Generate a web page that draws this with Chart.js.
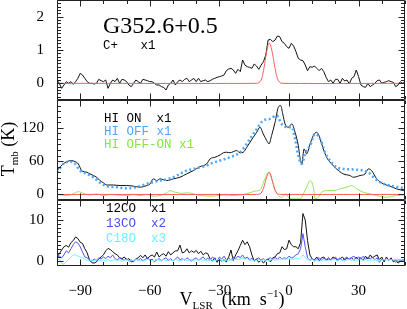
<!DOCTYPE html>
<html><head><meta charset="utf-8">
<style>html,body{margin:0;padding:0;background:#fff;overflow:hidden}#wrap{width:407px;height:309px;position:relative}</style>
<script src="https://cdn.jsdelivr.net/npm/chart.js@4.4.1/dist/chart.umd.min.js"></script>
</head><body><div id="wrap"><canvas id="c" width="407" height="309"></canvas></div>
<script>
// ---------- DATA ----------
// channel velocities (km/s) for the uniformly sampled spectra: -100 ... 50 step 1
const channelVel = Array.from({length: 151}, (_, i) => -100 + i);

const cplusT = [
 0.1,0.0,-0.15,-0.05,0.05,0.0,0.05,-0.03,0.05,0.15,
 0.3,0.25,0.15,0.05,0.0,0.0,-0.02,0.0,0.12,0.08,
 0.05,0.1,-0.15,0.0,0.1,0.05,0.15,0.0,0.12,0.1,
 0.05,-0.05,-0.1,0.0,0.1,0.05,0.0,0.12,0.1,0.08,
 0.05,0.05,0.0,-0.05,-0.05,-0.1,-0.12,-0.2,-0.05,0.0,
 0.1,-0.05,0.05,0.1,0.05,0.12,0.15,0.05,0.1,0.15,
 0.05,0.15,0.05,0.08,0.1,0.05,0.08,
 0.12,0.15,0.18,0.2,0.22,0.25,0.38,0.43,0.45,0.4,
 0.3,0.42,0.35,0.7,0.55,0.5,0.48,0.45,0.58,0.52,
 0.42,0.55,0.65,0.85,1.3,1.32,1.25,1.3,1.42,1.4,
 1.25,1.2,1.1,1.05,1.2,1.12,0.95,0.75,0.7,0.68,
 0.55,0.38,0.5,0.48,0.52,0.45,0.38,0.45,0.35,0.18,
 0.05,0.1,0.0,0.12,0.12,0.0,0.15,0.07,0.1,-0.02,
 0.15,0.2,0.4,0.2,-0.05,-0.1,-0.12,0.0,-0.1,-0.05,
 0.0,0.08,0.1,0.0,0.03,0.05,0.08,0.05,0.03,-0.1,
 -0.05,0.05,0.0,0.05
];

const fitVel   = [-100,-14,-13,-12,-11,-10,-9,-8.5,-8,-7,-6,-5,-4,-3,50];
const cplusFit = [0,0,0.02,0.1,0.38,0.8,1.15,1.2,1.15,0.85,0.45,0.15,0.03,0,0];
const hiFit    = [0,0,0.3,2.5,11,26,38,40,37,22,8,1.5,0.2,0,0];

const hiOnVel = [-100,-99.4,-97.3,-95.8,-93.7,-92.2,-90.8,-90.1,-89.4,-87.2,-85.8,-84.3,-82.9,-81.5,-80.0,-78.6,-75.7,-72.8,-70.0,-67.1,
 -64.2,-61.4,-59.9,-58.5,-57.0,-55.6,-52.7,-49.9,-47.0,-44.1,-41.2,-38.4,-35.5,-34.0,-31.9,-29.7,-28.3,-26.9,-25.4,-24.0,
 -22.6,-21.1,-19.7,-18.2,-16.8,-15.4,-13.9,-12.5,-11.1,-9.6,-8.6,-7.5,-6.0,-4.6,-3.6,-2.7,-1.7,-0.3,1.2,2.6,
 4.0,4.7,5.5,6.5,7.6,9.1,10.5,11.9,12.6,13.4,14.8,16.2,17.7,20.5,23.4,26.3,27.7,30.6,32.8,34.2,
 35.6,37.8,40.7,43.5,46.4,49.3,50];
const hiOnT = [42,46,55,59,61,59,55,49,43,40,37,34,31,25,21,17,17,16,16,15,
 13,16,19,28,25,28,25,28,31,37,43,50,55,64,67,71,75,76,75,77,
 79,75,76,85,94,103,112,121,109,97,91,106,130,157,160,145,127,121,127,112,
 88,67,55,82,73,91,106,112,109,100,82,67,58,46,37,34,31,34,37,46,
 43,28,19,15,10,7,6];

const hiOffVel = [-100,-99.4,-97.3,-94.4,-92.2,-90.1,-87.2,-84.3,-81.5,-78.6,-74.3,-70.0,-65.7,-61.4,-58.5,-55.6,-52.7,-49.9,-47.0,-44.1,
 -41.2,-38.4,-35.5,-34.0,-29.7,-25.4,-21.1,-16.8,-13.9,-11.1,-8.2,-5.3,-3.2,-1.0,1.2,2.6,4.0,5.5,6.9,9.1,
 11.2,13.4,15.5,17.7,20.5,23.4,27.7,32.0,34.2,36.4,39.2,43.5,47.8,50.0];
const hiOffT = [40,43,55,59,55,43,37,31,21,15,13,11,13,19,22,25,27,31,37,43,
 46,49,52,55,61,67,76,100,118,133,136,142,127,121,121,100,70,55,73,88,
 109,100,76,61,49,46,45,43,40,31,22,16,13,11];

const hiDiffVel = [-100,-95.8,-93,-90.8,-88.6,-85.8,-82.9,-80,-77.2,-74.3,-70,-67.1,-64.2,-61.4,-58.5,-55.6,-52.7,-51.3,-49.1,-46.3,
 -43.4,-41.2,-38.4,-32.6,-28.3,-24,-19.7,-16.8,-14.7,-12.5,-10.4,-8.9,-7.5,-6,-4.6,-3.2,-1.3,-0.3,1.9,4.7,
 6.2,7.6,9.1,10.5,11.2,12.6,14.1,16.2,19.1,22,24.9,27,29.2,32,34.9,37.8,42.1,46.4,50];
const hiDiffT = [0,-2,1,5,2,-1,1,-2,0,-1,-2,0,-2,0,-3,-2,3,7,4,2,
 3,1,-2,-3,-1,-2,0,3,6,8,28,40,28,7,-2,-5,1,-5,-8,-8,
 1,13,25,13,-8,-5,4,7,7,10,13,16,10,4,1,-2,-5,-2,-1];

const co12T = [
 1.0,1.8,2.7,3.5,3.8,3.4,4.5,5.0,5.9,5.5,
 4.6,4.3,3.0,2.0,0.3,-0.4,-0.5,-0.2,0.5,1.0,
 1.5,2.5,3.1,2.8,2.3,1.8,1.5,0.8,0.6,1.0,
 0.3,0.6,-0.2,0.0,0.5,0.8,1.4,0.8,1.5,0.6,
 1.2,1.5,1.0,2.2,1.0,1.5,1.8,1.2,2.3,1.5,
 2.0,2.5,2.5,3.9,2.0,2.2,3.0,2.0,2.5,2.1,
 2.6,1.8,2.4,1.5,2.0,1.8,0.5,0.0,0.8,-0.3,
 0.5,0.0,0.3,-0.2,1.0,2.7,0.0,1.5,2.5,3.8,
 5.1,4.0,4.7,3.5,1.5,0.0,0.5,-0.3,0.3,-0.5,
 0.2,0.5,-0.2,0.8,1.0,1.8,2.0,3.5,2.8,3.0,
 5.1,4.0,3.5,3.5,3.0,4.5,11.6,10.0,5.0,1.5,
 0.5,0.3,1.0,0.0,0.8,1.0,0.2,0.5,0.3,1.0,
 0.6,0.2,0.5,1.0,0.3,0.8,0.5,0.8,0.2,1.0,
 0.4,0.8,0.2,1.2,0.5,1.5,0.8,1.2,1.5,0.3,
 1.0,-0.2,1.0,0.2,0.8,-0.2,0.3,-0.5,0.0,0.3,
 0.2
];
const co13T = [
 1.0,1.2,0.8,1.5,2.5,2.0,3.0,4.0,4.7,4.4,
 3.5,2.2,1.0,0.8,0.3,0.0,0.5,0.2,0.8,0.5,
 1.0,0.6,1.2,0.8,1.5,0.6,0.3,0.8,0.4,0.2,
 0.6,0.0,0.3,-0.2,0.5,0.2,0.7,0.0,0.4,0.8,
 0.2,0.5,-0.2,0.3,0.6,0.1,0.5,0.8,0.2,0.6,
 0.0,0.5,1.0,0.3,0.6,0.2,0.8,0.4,0.0,0.5,
 0.8,0.2,0.6,1.0,0.3,0.7,0.2,1.0,0.5,0.0,
 1.0,0.5,1.2,0.3,0.8,0.2,1.0,0.5,1.2,0.8,
 1.5,0.6,1.0,0.3,0.7,0.0,0.5,0.8,0.2,0.6,
 0.0,0.5,0.8,0.3,0.9,0.4,1.0,0.5,0.8,0.6,
 1.2,0.8,1.0,1.5,1.8,3.0,6.7,3.5,0.8,0.2,
 0.6,0.0,0.5,0.8,0.2,0.7,0.3,0.9,0.2,0.6,
 1.0,0.3,0.8,0.1,0.6,1.0,0.4,0.9,1.2,0.5,
 1.0,0.6,1.2,0.4,0.9,0.5,1.0,0.3,0.8,-0.3,
 0.5,0.2,0.7,0.3,0.5,0.2,-0.3,0.4,0.1,0.3,
 0.4
];
const c18oT = [
 0.2,0.5,-0.5,-0.8,0.0,0.3,1.0,1.5,1.5,1.2,
 1.0,0.8,0.4,0.2,0.0,0.3,0.1,0.4,0.2,0.0,
 0.3,0.1,0.4,0.0,0.2,0.5,0.1,0.3,-0.1,0.2,
 0.4,0.0,0.3,0.1,0.5,0.2,0.0,0.3,0.1,0.4,
 0.2,0.0,0.3,0.5,0.1,0.2,0.4,0.0,0.3,0.2,
 0.1,0.4,0.2,0.0,0.3,0.5,0.1,0.2,0.4,0.0,
 0.3,0.2,0.5,0.1,0.3,0.0,0.4,0.2,0.1,0.3,
 0.5,0.2,0.0,0.3,0.1,0.4,0.2,0.6,0.3,0.5,
 0.8,0.4,0.6,0.2,0.3,0.0,0.2,0.4,0.1,0.3,
 0.2,0.0,0.3,0.5,0.2,0.4,0.3,0.6,0.4,0.5,
 0.6,0.4,0.5,0.7,0.6,0.9,1.5,0.8,0.3,0.2,
 0.4,0.1,0.3,0.0,0.2,0.4,0.1,0.3,0.2,0.5,
 0.3,0.1,0.4,0.2,0.0,0.3,0.5,0.2,0.4,0.1,
 0.3,0.5,0.2,0.4,0.1,0.3,0.2,0.4,0.0,0.3,
 0.2,0.4,0.3,0.3,0.3,0.3,0.3,0.3,0.3,0.3,
 0.3
];

// tick labels
const xTickValues  = [-90, -60, -30, 0, 30];
const cplusTicks   = [0, 1, 2];
const hiTicks      = [0, 60, 120];
const coTicks      = [0, 10];

// ---------- CHART ----------
const pts = (xs, ys) => xs.map((x, i) => ({x, y: ys[i]}));
const SERIF = '"Liberation Serif", "DejaVu Serif", serif';
const MONO = '"Liberation Mono", "DejaVu Sans Mono", monospace';
const fmt = v => (v < 0 ? '\u2212' + Math.abs(v) : String(v));

const line = (data, color, axis, extra) => Object.assign({
  data, borderColor: color, borderWidth: 1, pointRadius: 0, showLine: true,
  yAxisID: axis, tension: 0
}, extra || {});

const datasets = [
  // panel 1 (top): C+
  line(pts(fitVel, cplusFit), '#ff5a5a', 'y1', {tension: 0.4}),
  line(pts(channelVel, cplusT), '#111111', 'y1'),
  // panel 2: HI
  line(pts(fitVel, hiFit), '#ff5a5a', 'y2', {tension: 0.4}),
  line(pts(hiDiffVel, hiDiffT), '#8de85a', 'y2', {cubicInterpolationMode: 'monotone'}),
  line(pts(hiOffVel, hiOffT), '#4da6ff', 'y2', {borderWidth: 2.5, borderDash: [2, 2.5], cubicInterpolationMode: 'monotone'}),
  line(pts(hiOnVel, hiOnT), '#111111', 'y2', {cubicInterpolationMode: 'monotone'}),
  // panel 3: CO
  line(pts(channelVel, c18oT), '#6ff5ff', 'y3'),
  line(pts(channelVel, co13T), '#5050ff', 'y3'),
  line(pts(channelVel, co12T), '#111111', 'y3'),
];

const yAxis = (min, max, weight, ticks) => ({
  type: 'linear', position: 'left', stack: 'panels', stackWeight: weight,
  min, max, grid: {display: false}, border: {display: false},
  afterBuildTicks: s => { s.ticks = ticks.map(v => ({value: v})); },
  afterFit: s => { s.width = 57; s.paddingTop = 0; s.paddingBottom = 0; },
  ticks: {color: '#000', font: {family: SERIF, size: 15}, padding: 5, callback: v => fmt(v)}
});

const panelDefs = [
  {id: 'y1', major: cplusTicks, minorStep: 0.1},
  {id: 'y2', major: hiTicks, minorStep: 10},
  {id: 'y3', major: coTicks, minorStep: 1},
];

const decor = {
  id: 'decor',
  afterDraw(chart) {
    const ctx = chart.ctx, ca = chart.chartArea, xs = chart.scales.x;
    const L = Math.round(ca.left) + 0.5, R = Math.round(ca.right) - 0.5;
    ctx.save();
    ctx.strokeStyle = '#222'; ctx.lineWidth = 1;
    panelDefs.forEach(p => {
      const s = chart.scales[p.id];
      const T = Math.round(s.top) + 0.5, B = Math.round(s.bottom) - 0.5;
      ctx.beginPath();
      ctx.rect(L, T, R - L, B - T);
      for (let v = xs.min; v <= xs.max + 1e-9; v += 10) {
        const big = xTickValues.includes(v);
        const len = big ? 6 : 3.5;
        const px = Math.round(xs.getPixelForValue(v)) + 0.5;
        ctx.moveTo(px, B); ctx.lineTo(px, B - len);
        ctx.moveTo(px, T); ctx.lineTo(px, T + len);
      }
      const start = Math.ceil(s.min / p.minorStep - 1e-9);
      const end = Math.floor(s.max / p.minorStep + 1e-9);
      for (let k = start; k <= end; k++) {
        const v = k * p.minorStep;
        const big = p.major.some(m => Math.abs(m - v) < 1e-6);
        const len = big ? 6 : 3.5;
        const py = Math.round(s.getPixelForValue(v)) + 0.5;
        ctx.moveTo(L, py); ctx.lineTo(L + len, py);
        ctx.moveTo(R, py); ctx.lineTo(R - len, py);
      }
      ctx.stroke();
    });

    ctx.textBaseline = 'alphabetic'; ctx.textAlign = 'left';
    ctx.fillStyle = '#000';
    ctx.font = '24px ' + SERIF;
    ctx.fillText('G352.6+0.5', 103, 33);
    const mono = (txt, x, y, col) => {
      ctx.font = '12.5px ' + MONO;
      ctx.fillStyle = col; ctx.fillText(txt, x, y);
    };
    mono('C+   x1', 103, 49, '#000');
    mono('HI ON  x1', 104, 122, '#000');
    mono('HI OFF x1', 104, 135, '#4da6ff');
    mono('HI OFF-ON x1', 104, 148, '#7fe840');
    mono('12CO  x1', 106, 212, '#000');
    mono('13CO  x2', 106, 227, '#4a4aff');
    mono('C18O  x3', 106, 242, '#66f5ff');

    ctx.fillStyle = '#000';
    ctx.save();
    ctx.translate(14, 149); ctx.rotate(-Math.PI / 2);
    const bigF = '18px ' + SERIF, smF = '11px ' + SERIF;
    ctx.font = bigF; const wT = ctx.measureText('T').width, wK = ctx.measureText(' (K)').width;
    ctx.font = smF; const wmb = ctx.measureText('mb').width;
    let x0 = -(wT + wmb + wK) / 2;
    ctx.font = bigF; ctx.fillText('T', x0, 0); x0 += wT;
    ctx.font = smF; ctx.fillText('mb', x0, 4); x0 += wmb;
    ctx.font = bigF; ctx.fillText(' (K)', x0, 0);
    ctx.restore();

    const parts = [
      ['V', bigF, 0], ['LSR', smF, 4], ['  (km  s', bigF, 0], ['\u22121', smF, -8], [')', bigF, 0]
    ];
    let tw = 0;
    parts.forEach(p => { ctx.font = p[1]; p.push(ctx.measureText(p[0]).width); tw += p[3]; });
    let xx = 232 - tw / 2;
    parts.forEach(p => { ctx.font = p[1]; ctx.fillText(p[0], xx, 305 + p[2]); xx += p[3]; });
    ctx.restore();
  }
};

new Chart(document.getElementById('c'), {
  type: 'scatter',
  data: {datasets},
  options: {
    responsive: false, animation: false, devicePixelRatio: 1,
    layout: {padding: {top: 0, right: 2, left: 0, bottom: 0}},
    plugins: {legend: {display: false}, tooltip: {enabled: false}},
    scales: {
      x: {
        type: 'linear', position: 'bottom', min: -100, max: 50,
        grid: {display: false}, border: {display: false},
        afterBuildTicks: s => { s.ticks = xTickValues.map(v => ({value: v})); },
        afterFit: s => { s.height = 43; s.paddingLeft = 0; s.paddingRight = 0; },
        ticks: {color: '#000', font: {family: SERIF, size: 15}, padding: 8, maxRotation: 0, callback: v => fmt(v)}
      },
      y3: yAxis(-1.2, 14.9, 66, coTicks),
      y2: yAxis(-10, 170, 100, hiTicks),
      y1: yAxis(-0.5, 2.5, 100, cplusTicks),
    }
  },
  plugins: [decor]
});
</script>
</body></html>
